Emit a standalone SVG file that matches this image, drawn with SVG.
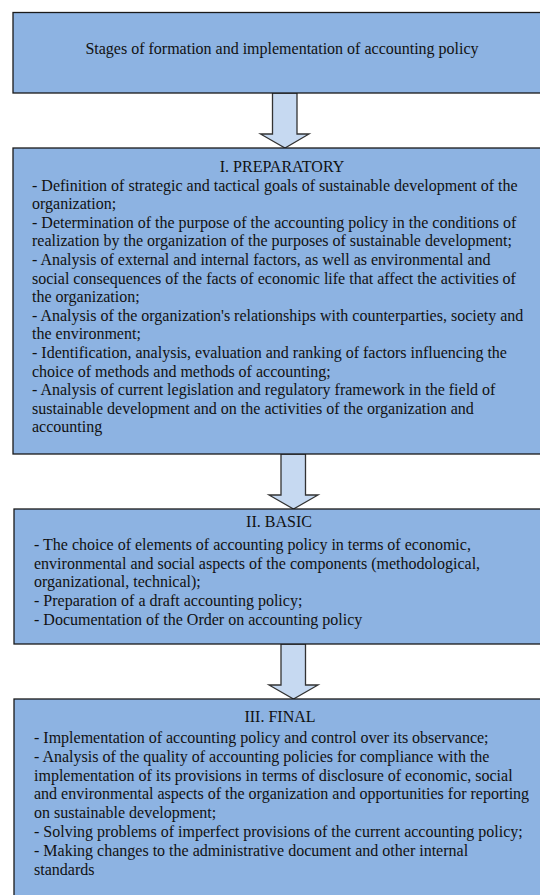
<svg xmlns="http://www.w3.org/2000/svg" width="540" height="895" viewBox="0 0 540 895">
<style>
.box{fill:#8DB3E2;stroke:#1a1a1a;stroke-width:1.3}
.arr{fill:#C6D9F1;stroke:#333;stroke-width:1.3;stroke-linejoin:miter}
text{font-family:"Liberation Serif","Times New Roman",serif;font-size:16px;fill:#111}
.c{text-anchor:middle}
</style>
<rect width="540" height="895" fill="#fff"/>
<g id="connectors">
<polygon class="arr" points="272.5,93 297,93 297,134 309,134 285,148 260.5,134 272.5,134"/>
<polygon class="arr" points="281,454 305.5,454 305.5,495 318,495 293.5,509 269,495 281,495"/>
<polygon class="arr" points="281,644 305.5,644 305.5,685 318,685 293.5,699 269,685 281,685"/>
</g>
<g id="node-title">
<rect class="box" x="13" y="12.5" width="540" height="80.5"/>
<text class="c" x="282" y="54">Stages of formation and implementation of accounting policy</text>
</g>
<g id="node-preparatory">
<rect class="box" x="13" y="148" width="540" height="306"/>
<text class="c" x="282" y="172">I. PREPARATORY</text>
<text x="32" y="190.5">- Definition of strategic and tactical goals of sustainable development of the</text>
<text x="32" y="209.1">organization;</text>
<text x="32" y="227.7">- Determination of the purpose of the accounting policy in the conditions of</text>
<text x="32" y="246.3">realization by the organization of the purposes of sustainable development;</text>
<text x="32" y="264.9">- Analysis of external and internal factors, as well as environmental and</text>
<text x="32" y="283.5">social consequences of the facts of economic life that affect the activities of</text>
<text x="32" y="302.1">the organization;</text>
<text x="32" y="320.7">- Analysis of the organization's relationships with counterparties, society and</text>
<text x="32" y="339.3">the environment;</text>
<text x="32" y="357.9">- Identification, analysis, evaluation and ranking of factors influencing the</text>
<text x="32" y="376.5">choice of methods and methods of accounting;</text>
<text x="32" y="395.1">- Analysis of current legislation and regulatory framework in the field of</text>
<text x="32" y="413.7">sustainable development and on the activities of the organization and</text>
<text x="32" y="432.3">accounting</text>
</g>
<g id="node-basic">
<rect class="box" x="14" y="509" width="540" height="135"/>
<text class="c" x="279" y="527">II. BASIC</text>
<text x="34" y="550">- The choice of elements of accounting policy in terms of economic,</text>
<text x="34" y="568.7">environmental and social aspects of the components (methodological,</text>
<text x="34" y="587.4">organizational, technical);</text>
<text x="34" y="606.1">- Preparation of a draft accounting policy;</text>
<text x="34" y="624.8">- Documentation of the Order on accounting policy</text>
</g>
<g id="node-final">
<rect class="box" x="14" y="699" width="540" height="210"/>
<text class="c" x="280" y="722">III. FINAL</text>
<text x="34" y="743">- Implementation of accounting policy and control over its observance;</text>
<text x="34" y="761.8">- Analysis of the quality of accounting policies for compliance with the</text>
<text x="34" y="780.6">implementation of its provisions in terms of disclosure of economic, social</text>
<text x="34" y="799.4">and environmental aspects of the organization and opportunities for reporting</text>
<text x="34" y="818.2">on sustainable development;</text>
<text x="34" y="837">- Solving problems of imperfect provisions of the current accounting policy;</text>
<text x="34" y="855.8">- Making changes to the administrative document and other internal</text>
<text x="34" y="874.6">standards</text>
</g>
</svg>
